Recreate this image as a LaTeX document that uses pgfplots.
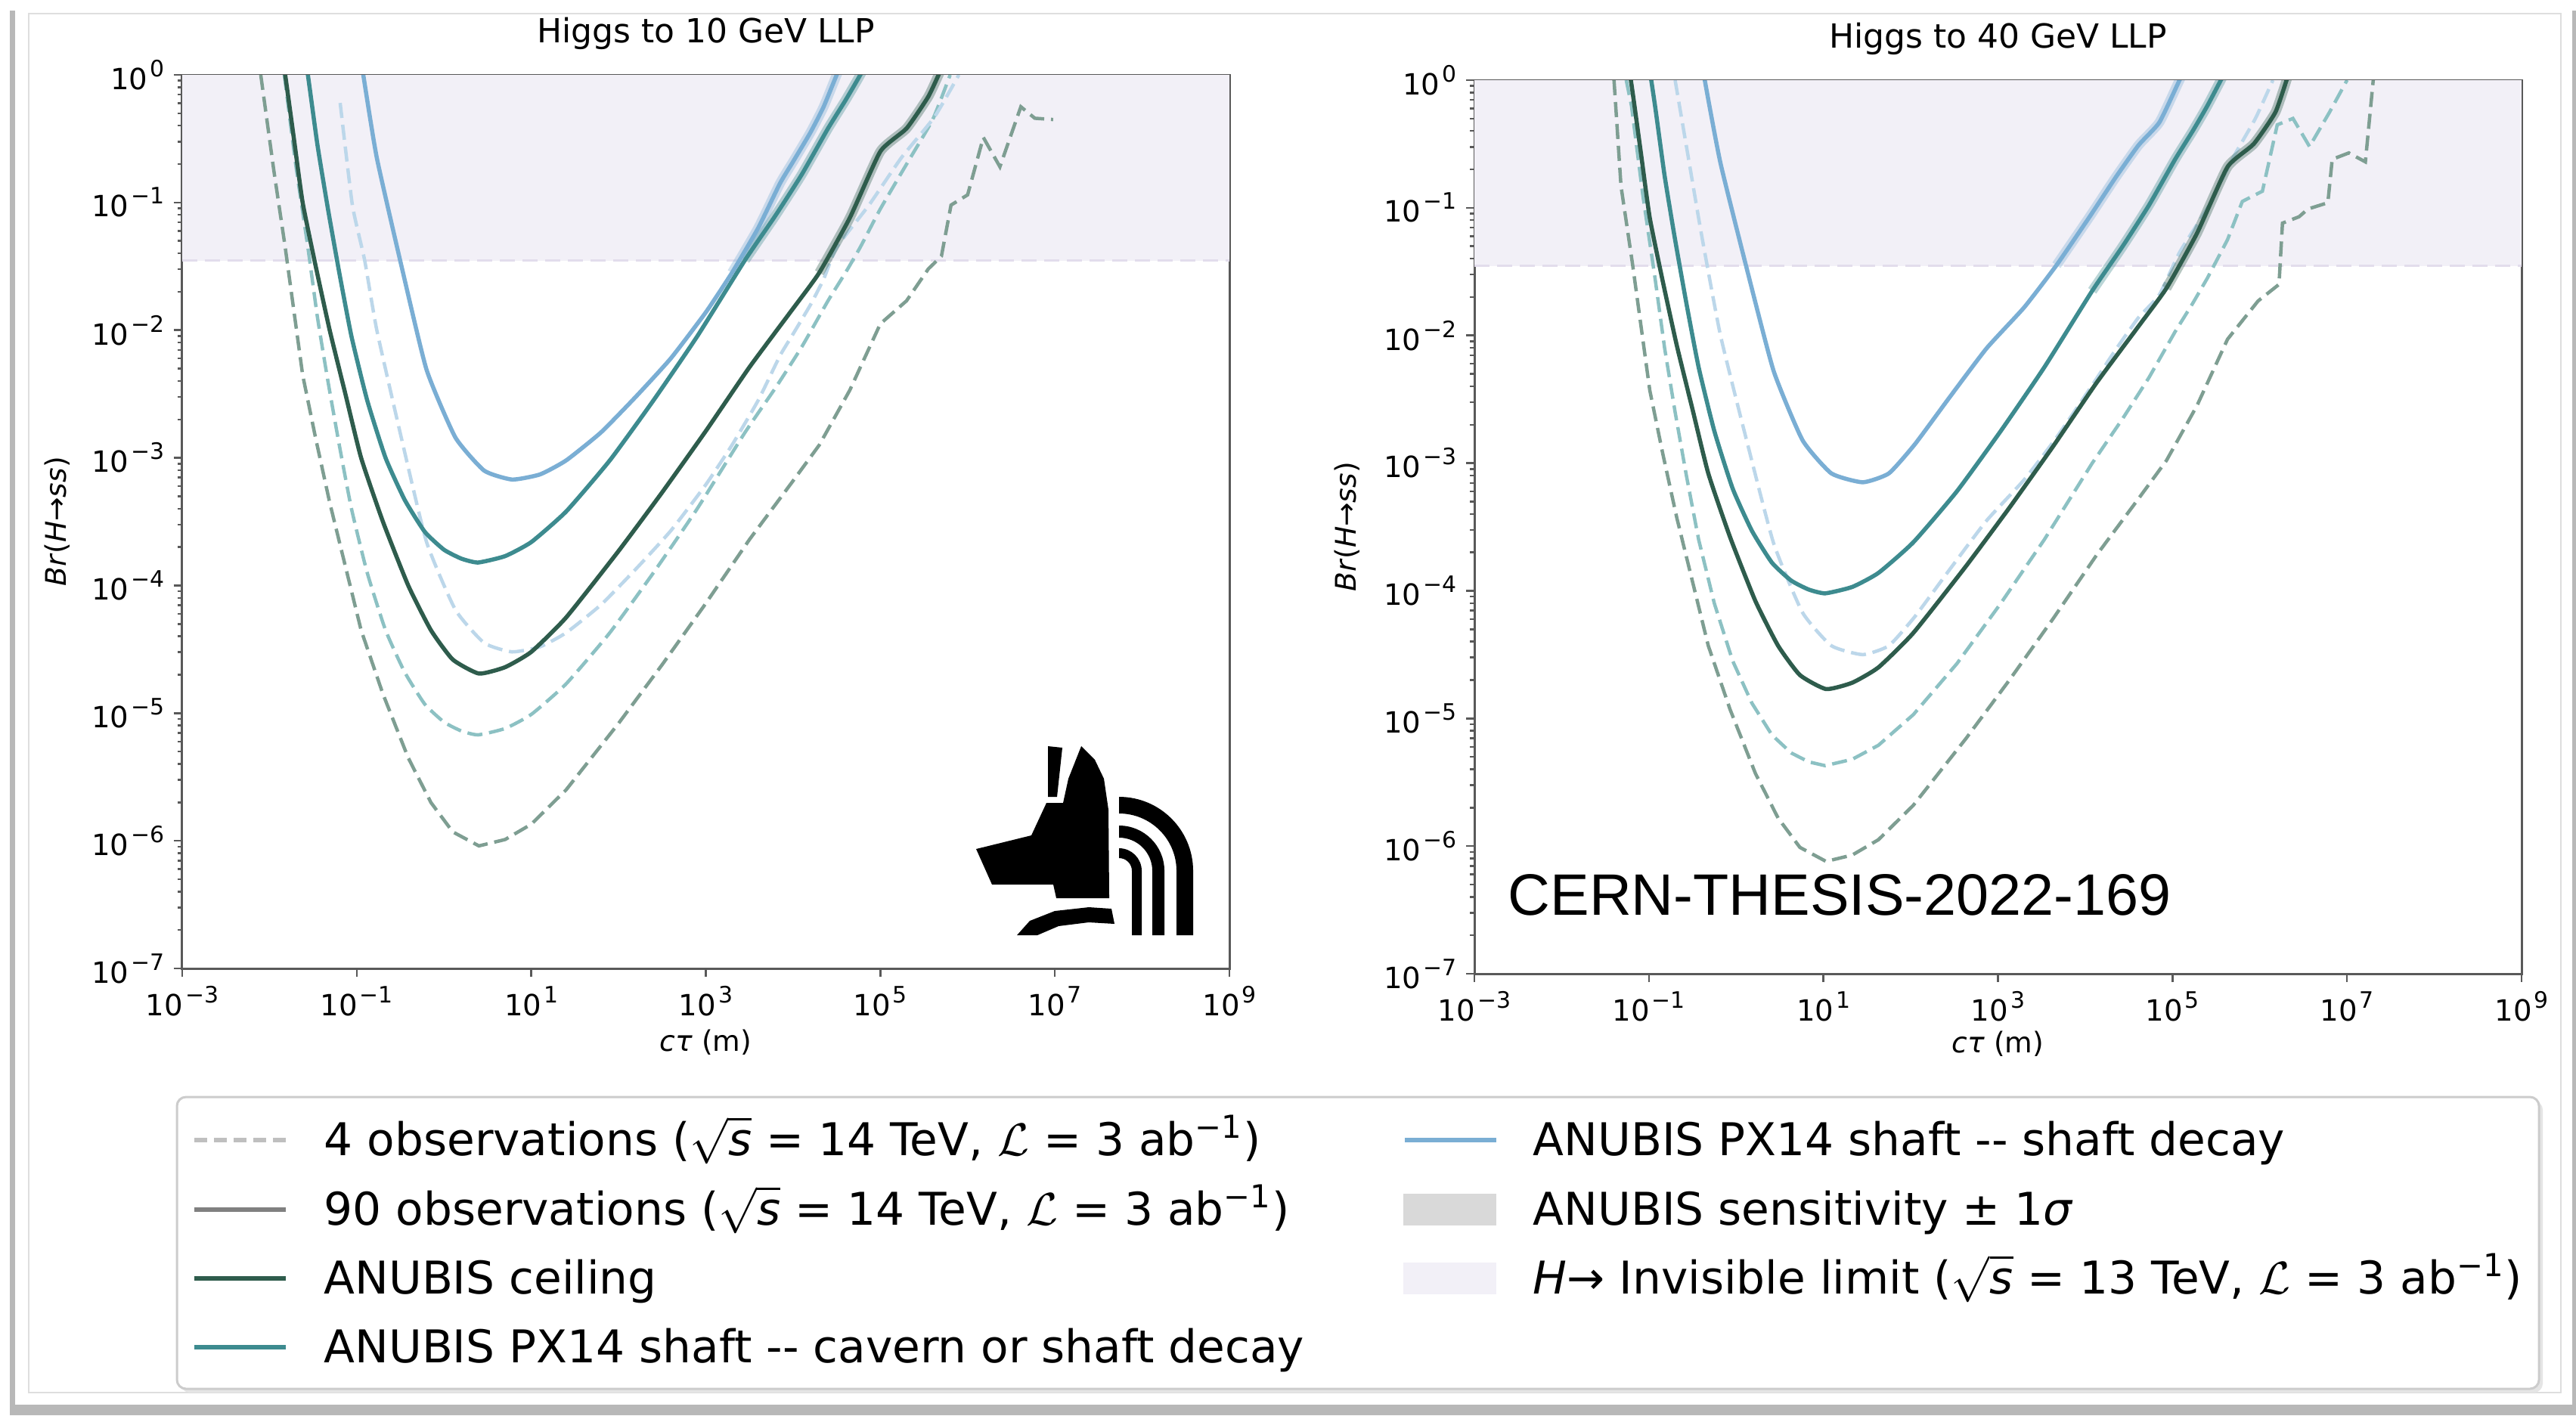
\documentclass[border=0pt]{standalone}
\usepackage{fontspec}
\setmainfont{DejaVu Sans}
\newfontfamily\libsans{Liberation Sans}
\usepackage{pgfplots}
\pgfplotsset{compat=1.18}
\usepackage{pgfplotstable}

\definecolor{dgS}{RGB}{46,92,76}
\definecolor{dgD}{RGB}{126,158,146}
\definecolor{tS}{RGB}{61,139,143}
\definecolor{tD}{RGB}{140,193,195}
\definecolor{lbS}{RGB}{122,174,212}
\definecolor{lbD}{RGB}{188,215,234}
\definecolor{lav}{RGB}{242,240,247}
\definecolor{lavD}{RGB}{226,221,236}

\newcommand\sqrts{$\sqrt{\textit{s}}$}
\newcommand\Lum{$\mathcal{L}$}
\newcommand\tpow[1]{10\kern0.3mm\raisebox{1.7mm}{\fontsize{8.5}{10}\selectfont #1}}
\tikzset{
  curvesolid/.style={line width=0.55mm, smooth, tension=0.3},
  curvedash/.style={line width=0.45mm, dash pattern=on 2mm off 0.9mm, smooth, tension=0.3},
  curvejag/.style={line width=0.45mm, dash pattern=on 2mm off 0.9mm},
  curveband/.style={line width=1.3mm, opacity=0.35, smooth, tension=0.3},
}

% ---------------- LEFT: Higgs to 10 GeV LLP (log10 ctau, log10 Br)
\pgfplotstableread{
lx ly
-2.10 1.35
-1.95 0.60
-1.82 0.00
-1.72 -0.50
-1.62 -1.00
-1.47 -1.50
-1.31 -2.00
-1.13 -2.50
-0.95 -3.00
-0.70 -3.50
-0.41 -4.00
-0.15 -4.35
0.10 -4.58
0.40 -4.69
0.70 -4.64
1.00 -4.52
1.40 -4.25
2.00 -3.73
2.50 -3.27
3.00 -2.79
3.50 -2.29
4.00 -1.83
4.30 -1.55
4.65 -1.12
5.00 -0.60
5.30 -0.42
5.55 -0.17
5.70 0.05
}\LdgS
\pgfplotstableread{
lx ly
-2.10 0.00
-1.95 -0.75
-1.82 -1.35
-1.72 -1.85
-1.62 -2.35
-1.47 -2.85
-1.31 -3.35
-1.13 -3.85
-0.95 -4.35
-0.70 -4.85
-0.41 -5.35
-0.15 -5.70
0.10 -5.93
0.40 -6.04
0.70 -5.99
1.00 -5.87
1.40 -5.60
2.00 -5.08
2.50 -4.62
3.00 -4.14
3.50 -3.64
4.00 -3.18
4.30 -2.90
4.65 -2.47
5.00 -1.95
5.30 -1.77
5.55 -1.52
5.70 -1.42
5.81 -1.02
6.00 -0.94
6.18 -0.49
6.37 -0.72
6.61 -0.25
6.77 -0.34
6.98 -0.35
}\LdgD
\pgfplotstableread{
lx ly
-1.83 1.35
-1.70 0.65
-1.56 0.00
-1.45 -0.55
-1.33 -1.05
-1.20 -1.55
-1.06 -2.05
-0.88 -2.55
-0.67 -3.00
-0.45 -3.33
-0.22 -3.58
0.00 -3.72
0.20 -3.79
0.39 -3.82
0.70 -3.77
1.00 -3.66
1.40 -3.42
1.90 -3.02
2.40 -2.55
2.90 -2.05
3.45 -1.45
3.80 -1.10
4.10 -0.78
4.40 -0.42
4.60 -0.20
4.77 0.00
5.00 0.30
}\LtS
\pgfplotstableread{
lx ly
-1.83 0.00
-1.70 -0.70
-1.56 -1.35
-1.45 -1.90
-1.33 -2.40
-1.20 -2.90
-1.06 -3.40
-0.88 -3.90
-0.67 -4.35
-0.45 -4.68
-0.22 -4.93
0.00 -5.07
0.20 -5.14
0.39 -5.17
0.70 -5.12
1.00 -5.01
1.40 -4.77
1.90 -4.37
2.40 -3.90
2.90 -3.40
3.45 -2.80
3.80 -2.45
4.10 -2.13
4.40 -1.77
4.60 -1.55
4.77 -1.35
5.00 -1.05
5.30 -0.70
5.60 -0.35
5.80 0.00
}\LtD
\pgfplotstableread{
lx ly
-1.00 0.35
-0.925 0.00
-0.77 -0.65
-0.48 -1.52
-0.20 -2.31
0.13 -2.84
0.46 -3.10
0.78 -3.17
1.10 -3.13
1.40 -3.02
1.80 -2.80
2.20 -2.52
2.60 -2.22
3.00 -1.86
3.30 -1.55
3.60 -1.20
3.85 -0.85
4.00 -0.68
4.20 -0.45
4.35 -0.25
4.50 0.00
4.60 0.15
}\LbS
\pgfplotstableread{
lx ly
-1.19 -0.22
-1.05 -1.02
-0.91 -1.45
-0.77 -2.00
-0.48 -2.87
-0.20 -3.66
0.13 -4.19
0.46 -4.45
0.78 -4.52
1.10 -4.48
1.40 -4.37
1.80 -4.15
2.20 -3.87
2.60 -3.57
3.00 -3.21
3.30 -2.90
3.60 -2.55
3.85 -2.20
4.00 -2.03
4.20 -1.80
4.35 -1.60
4.50 -1.35
4.87 -1.02
5.24 -0.65
5.62 -0.33
5.90 0.00
}\LbD
\pgfplotstableread{
lx ly
4.30 -1.55
4.65 -1.12
5.00 -0.60
5.30 -0.42
5.55 -0.17
5.70 0.05
}\LdgB
\pgfplotstableread{
lx ly
3.45 -1.45
3.80 -1.10
4.10 -0.78
4.40 -0.42
4.60 -0.20
4.77 0.00
5.00 0.30
}\LtB
\pgfplotstableread{
lx ly
3.30 -1.55
3.60 -1.20
3.85 -0.85
4.00 -0.68
4.20 -0.45
4.35 -0.25
4.50 0.00
4.60 0.15
}\LbB

% ---------------- RIGHT: Higgs to 40 GeV LLP
\pgfplotstableread{
lx ly
-1.47 1.27
-1.32 0.52
-1.19 -0.08
-1.09 -0.58
-0.99 -1.08
-0.84 -1.58
-0.68 -2.08
-0.50 -2.58
-0.32 -3.08
-0.07 -3.58
0.22 -4.08
0.48 -4.43
0.73 -4.66
1.03 -4.77
1.33 -4.72
1.63 -4.60
2.03 -4.33
2.63 -3.81
3.13 -3.35
3.63 -2.87
4.13 -2.37
4.63 -1.91
4.93 -1.63
5.28 -1.20
5.63 -0.68
5.93 -0.50
6.18 -0.25
6.33 0.05
}\RdgS
\pgfplotstableread{
lx ly
-1.40 0.00
-1.32 -0.83
-1.19 -1.43
-1.09 -1.93
-0.99 -2.43
-0.84 -2.93
-0.68 -3.43
-0.50 -3.93
-0.32 -4.43
-0.07 -4.93
0.22 -5.43
0.48 -5.78
0.73 -6.01
1.03 -6.12
1.33 -6.07
1.63 -5.95
2.03 -5.68
2.63 -5.16
3.13 -4.70
3.63 -4.22
4.13 -3.72
4.63 -3.26
4.93 -2.98
5.28 -2.55
5.63 -2.03
5.98 -1.73
6.22 -1.60
6.26 -1.12
6.45 -1.07
6.55 -1.01
6.78 -0.96
6.83 -0.62
7.02 -0.57
7.21 -0.64
7.30 0.00
}\RdgD
\pgfplotstableread{
lx ly
-1.20 1.15
-1.07 0.45
-0.93 -0.20
-0.82 -0.75
-0.70 -1.25
-0.57 -1.75
-0.43 -2.25
-0.25 -2.75
-0.04 -3.20
0.18 -3.53
0.41 -3.78
0.63 -3.92
0.83 -3.99
1.02 -4.02
1.33 -3.97
1.63 -3.86
2.03 -3.62
2.53 -3.22
3.03 -2.75
3.53 -2.25
4.08 -1.65
4.43 -1.30
4.73 -0.98
5.03 -0.62
5.23 -0.40
5.40 -0.20
5.63 0.10
}\RtS
\pgfplotstableread{
lx ly
-1.26 0.00
-1.20 -0.20
-1.07 -0.90
-0.93 -1.55
-0.82 -2.10
-0.70 -2.60
-0.57 -3.10
-0.43 -3.60
-0.25 -4.10
-0.04 -4.55
0.18 -4.88
0.41 -5.13
0.63 -5.27
0.83 -5.34
1.02 -5.37
1.33 -5.32
1.63 -5.21
2.03 -4.97
2.53 -4.57
3.03 -4.10
3.53 -3.60
4.08 -3.00
4.43 -2.65
4.73 -2.33
5.03 -1.97
5.23 -1.75
5.40 -1.55
5.63 -1.25
5.80 -0.95
6.03 -0.87
6.20 -0.35
6.38 -0.30
6.57 -0.52
6.80 -0.25
7.00 0.00
}\RtD
\pgfplotstableread{
lx ly
-0.42 0.30
-0.36 0.00
-0.18 -0.65
0.13 -1.50
0.43 -2.28
0.76 -2.82
1.09 -3.08
1.45 -3.15
1.75 -3.08
2.05 -2.85
2.45 -2.48
2.87 -2.10
3.30 -1.78
3.67 -1.45
4.05 -1.07
4.35 -0.76
4.61 -0.51
4.85 -0.33
5.08 0.00
5.15 0.10
}\RbS
\pgfplotstableread{
lx ly
-0.70 0.00
-0.55 -0.60
-0.40 -1.20
-0.18 -2.00
0.13 -2.85
0.43 -3.63
0.76 -4.17
1.09 -4.43
1.45 -4.50
1.75 -4.43
2.05 -4.20
2.45 -3.83
2.87 -3.45
3.30 -3.13
3.67 -2.80
4.05 -2.42
4.35 -2.11
4.61 -1.86
4.85 -1.68
5.08 -1.35
5.40 -1.00
5.70 -0.60
5.95 -0.30
6.15 0.00
}\RbD
\pgfplotstableread{
lx ly
4.93 -1.63
5.28 -1.20
5.63 -0.68
5.93 -0.50
6.18 -0.25
6.33 0.05
}\RdgB
\pgfplotstableread{
lx ly
4.08 -1.65
4.43 -1.30
4.73 -0.98
5.03 -0.62
5.23 -0.40
5.40 -0.20
5.63 0.10
}\RtB
\pgfplotstableread{
lx ly
3.67 -1.45
4.05 -1.07
4.35 -0.76
4.61 -0.51
4.85 -0.33
5.08 0.00
5.15 0.10
}\RbB

\newcommand\plt[2]{\addplot[#1, forget plot] table[x expr={pow(10,\thisrow{lx})}, y expr={pow(10,\thisrow{ly})}] {#2};}

\begin{document}
\begin{tikzpicture}
\path[use as bounding box] (0,0) rectangle (340.7mm,187.2mm);
\begin{scope}[x=0.1mm,y=-0.1mm,yshift=187.2mm]
  \fill[black!28] (13,14) rectangle (3407,1872);
  \fill[white] (20,0) rectangle (3402,1858);
  \draw[black!13, line width=0.15mm] (38,18) rectangle (3387,1842);
\end{scope}

% ---------- left axis
\begin{axis}[at={(24.1mm,59.1mm)}, anchor=south west,
  scale only axis, width=138.5mm, height=118.2mm,
  xmode=log, ymode=log,
  xmin=1e-3, xmax=1e9, ymin=1e-7, ymax=1,
  xtick={1e-3,1e-1,1e1,1e3,1e5,1e7,1e9},
  xticklabels={\tpow{−3},\tpow{−1},\tpow{1},\tpow{3},\tpow{5},\tpow{7},\tpow{9}},
  ytick={1e-7,1e-6,1e-5,1e-4,1e-3,1e-2,1e-1,1},
  yticklabels={\tpow{−7},\tpow{−6},\tpow{−5},\tpow{−4},\tpow{−3},\tpow{−2},\tpow{−1},\tpow{0}},
  tick align=outside, xtick pos=left, ytick pos=left,
  major tick length=1.1mm, minor tick length=0.6mm,
  axis line style={black!65, line width=0.3mm},
  tick style={black!65, line width=0.25mm},
  tick label style={font=\fontsize{11}{13}\selectfont},
  xlabel style={font=\fontsize{10.7}{12.8}\selectfont, at={(axis description cs:0.5,-0.083)}, anchor=center},
  ylabel style={font=\fontsize{10.7}{12.8}\selectfont, at={(axis description cs:-0.119,0.5)}, anchor=center},
  title style={font=\fontsize{12.5}{15}\selectfont},
  xlabel={\textit{cτ} (m)},
  ylabel={\textit{Br}(\textit{H}→\textit{ss})},
  title={Higgs to 10 GeV LLP},
]
\addplot[fill=lav, draw=none, forget plot] coordinates {(1e-3,0.035) (1e9,0.035) (1e9,1) (1e-3,1)} -- cycle;
\addplot[lavD, line width=0.3mm, dash pattern=on 2mm off 1mm, forget plot] coordinates {(1e-3,0.035) (1e9,0.035)};
\plt{curvejag, dgD}{\LdgD}
\plt{curvedash, tD}{\LtD}
\plt{curvedash, lbD}{\LbD}
\plt{curveband, dgS}{\LdgB}
\plt{curveband, tS}{\LtB}
\plt{curveband, lbS}{\LbB}
\plt{curvesolid, dgS}{\LdgS}
\plt{curvesolid, tS}{\LtS}
\plt{curvesolid, lbS}{\LbS}
\end{axis}

% ---------- right axis
\begin{axis}[at={(195.0mm,58.4mm)}, anchor=south west,
  scale only axis, width=138.5mm, height=118.2mm,
  xmode=log, ymode=log,
  xmin=1e-3, xmax=1e9, ymin=1e-7, ymax=1,
  xtick={1e-3,1e-1,1e1,1e3,1e5,1e7,1e9},
  xticklabels={\tpow{−3},\tpow{−1},\tpow{1},\tpow{3},\tpow{5},\tpow{7},\tpow{9}},
  ytick={1e-7,1e-6,1e-5,1e-4,1e-3,1e-2,1e-1,1},
  yticklabels={\tpow{−7},\tpow{−6},\tpow{−5},\tpow{−4},\tpow{−3},\tpow{−2},\tpow{−1},\tpow{0}},
  tick align=outside, xtick pos=left, ytick pos=left,
  major tick length=1.1mm, minor tick length=0.6mm,
  axis line style={black!65, line width=0.3mm},
  tick style={black!65, line width=0.25mm},
  tick label style={font=\fontsize{11}{13}\selectfont},
  xlabel style={font=\fontsize{10.7}{12.8}\selectfont, at={(axis description cs:0.5,-0.078)}, anchor=center},
  ylabel style={font=\fontsize{10.7}{12.8}\selectfont, at={(axis description cs:-0.1214,0.5)}, anchor=center},
  title style={font=\fontsize{12.5}{15}\selectfont},
  xlabel={\textit{cτ} (m)},
  ylabel={\textit{Br}(\textit{H}→\textit{ss})},
  title={Higgs to 40 GeV LLP},
]
\addplot[fill=lav, draw=none, forget plot] coordinates {(1e-3,0.035) (1e9,0.035) (1e9,1) (1e-3,1)} -- cycle;
\addplot[lavD, line width=0.3mm, dash pattern=on 2mm off 1mm, forget plot] coordinates {(1e-3,0.035) (1e9,0.035)};
\plt{curvejag, dgD}{\RdgD}
\plt{curvejag, tD}{\RtD}
\plt{curvedash, lbD}{\RbD}
\plt{curveband, dgS}{\RdgB}
\plt{curveband, tS}{\RtB}
\plt{curveband, lbS}{\RbB}
\plt{curvesolid, dgS}{\RdgS}
\plt{curvesolid, tS}{\RtS}
\plt{curvesolid, lbS}{\RbS}
\end{axis}

% ---------- logo, note and legend
\begin{scope}[x=0.1mm,y=-0.1mm,yshift=187.2mm]
  \fill[black] (1386,987) -- (1405,989) -- (1398,1054) -- (1386,1054) -- cycle;
  \fill[black] (1430,987) -- (1448,1005) -- (1460,1030) -- (1466,1071) -- (1467,1188)
     -- (1397,1188) -- (1393,1170) -- (1312,1170) -- (1291,1123) -- (1364,1105)
     -- (1384,1062) -- (1406,1062) -- (1413,1030) -- cycle;
  \fill[black] (1345,1237) -- (1362,1218) -- (1395,1205) -- (1440,1200) -- (1470,1202)
     -- (1474,1222) -- (1440,1220) -- (1400,1225) -- (1372,1237) -- cycle;
  \fill[black] (1480,1054) arc[start angle=-90, end angle=0, radius=98] -- (1578,1237) -- (1556,1237)
     -- (1556,1152) arc[start angle=0, end angle=-90, radius=76] -- cycle;
  \fill[black] (1480,1092) arc[start angle=-90, end angle=0, radius=60] -- (1540,1237) -- (1524,1237)
     -- (1524,1152) arc[start angle=0, end angle=-90, radius=44] -- cycle;
  \fill[black] (1480,1122) arc[start angle=-90, end angle=0, radius=30] -- (1510,1237) -- (1497,1237)
     -- (1497,1152) arc[start angle=0, end angle=-90, radius=17] -- cycle;
  \node[anchor=base west, inner sep=0pt, font=\libsans\fontsize{22}{26}\selectfont] at (1994,1210) {CERN-THESIS-2022-169};

  % legend
  \fill[black!10, rounded corners=1.2mm] (239,1456) rectangle (3363,1842);
  \draw[black!20, fill=white, line width=0.3mm, rounded corners=1.2mm] (234,1451) rectangle (3358,1837);
  \begin{scope}[every node/.style={anchor=base west, inner sep=0pt, font=\fontsize{17}{20}\selectfont}]
    \draw[black!25, line width=0.6mm, dash pattern=on 1.7mm off 0.9mm] (257,1508) -- (378,1508);
    \node at (428,1528) {4 observations (\sqrts{} = 14 TeV, \Lum{} = 3 ab\textsuperscript{−1})};
    \draw[black!50, line width=0.6mm] (257,1600) -- (378,1600);
    \node at (428,1620) {90 observations (\sqrts{} = 14 TeV, \Lum{} = 3 ab\textsuperscript{−1})};
    \draw[dgS, line width=0.6mm] (257,1691) -- (378,1691);
    \node at (428,1711) {ANUBIS ceiling};
    \draw[tS, line width=0.6mm] (257,1782) -- (378,1782);
    \node at (428,1802) {ANUBIS PX14 shaft -{}- cavern or shaft decay};
    \draw[lbS, line width=0.6mm] (1858,1508) -- (1979,1508);
    \node at (2027,1528) {ANUBIS PX14 shaft -{}- shaft decay};
    \fill[black!15] (1856,1579) rectangle (1979,1621);
    \node at (2027,1620) {ANUBIS sensitivity ± 1\textit{σ}};
    \fill[lav] (1856,1670) rectangle (1979,1712);
    \node at (2027,1711) {\textit{H}→ Invisible limit (\sqrts{} = 13 TeV, \Lum{} = 3 ab\textsuperscript{−1})};
  \end{scope}
\end{scope}
\end{tikzpicture}
\end{document}
